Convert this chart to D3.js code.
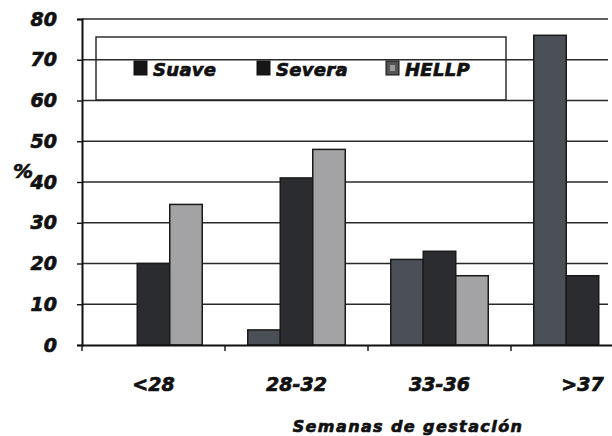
<!DOCTYPE html>
<html>
<head>
<meta charset="utf-8">
<script src="https://cdn.jsdelivr.net/npm/d3@7"></script>
<style>
  html, body { margin: 0; padding: 0; background: #fff; }
  svg { display: block; }
  text { font-family: "DejaVu Sans", Verdana, sans-serif; font-weight: bold; font-style: italic; fill: #111; stroke: #111; stroke-width: 0.7px; }
</style>
</head>
<body>
<svg id="chart" width="612" height="436"></svg>
<script>
// Gestational age groups and percentage per preeclampsia type
const categories = ["<28", "28-32", "33-36", ">37"];
const seriesNames = ["Suave", "Severa", "HELLP"];
const suave  = [0, 3.7, 21, 76];
const severa = [20, 41, 23, 17];
const hellp  = [34.5, 48, 17, 0];
const yTicks = [0, 10, 20, 30, 40, 50, 60, 70, 80];
const seriesColors = ["#4b4f56", "#2b2c30", "#a3a3a5"];

const values = [suave, severa, hellp];
const rows = categories.map((c, i) => ({
  cat: c,
  vals: seriesNames.map((s, j) => ({ series: s, value: values[j][i], idx: j }))
}));

const svg = d3.select("#chart");
const plotLeft = 82, plotRight = 654, plotTop = 19, plotBottom = 345;

const x0 = d3.scaleBand().domain(categories).range([plotLeft, plotRight]).paddingInner(0).paddingOuter(0);
const x1 = d3.scaleBand().domain(seriesNames).range([0, x0.bandwidth()]).paddingInner(0).paddingOuter(0.7);
const y = d3.scaleLinear().domain([0, 80]).range([plotBottom, plotTop]);

const boldText = sel => sel
  .attr("font-family", "DejaVu Sans, sans-serif")
  .attr("font-weight", "bold").attr("font-style", "italic")
  .attr("fill", "#111").attr("stroke", "#111").attr("stroke-width", 0.7);

// horizontal gridlines
svg.append("g")
  .selectAll("line")
  .data(yTicks.filter(t => t > 0))
  .join("line")
  .attr("x1", plotLeft).attr("x2", 608)
  .attr("y1", d => y(d)).attr("y2", d => y(d))
  .attr("stroke", "#2a2a2a").attr("stroke-width", 1.4);

// legend frame (no fill, gridlines pass behind the text)
const lg = svg.append("g");
lg.append("rect")
  .attr("x", 96).attr("y", 37).attr("width", 410).attr("height", 63)
  .attr("fill", "none").attr("stroke", "#222").attr("stroke-width", 1.4);
const legendX = [134, 257, 386];
seriesNames.forEach((s, i) => {
  lg.append("rect")
    .attr("x", legendX[i]).attr("y", 61).attr("width", 13).attr("height", 14)
    .attr("fill", i === 2 ? "#555" : "#161616").attr("stroke", "#111");
  if (i === 2) {
    lg.append("rect")
      .attr("x", legendX[i] + 4).attr("y", 65).attr("width", 5).attr("height", 6)
      .attr("fill", "#9a9a9a");
  }
  lg.append("text")
    .attr("x", legendX[i] + 19).attr("y", 76)
    .attr("font-size", 18).attr("letter-spacing", "0.3")
    .call(boldText)
    .text(s);
});

// bars
svg.append("g")
  .selectAll("g")
  .data(rows)
  .join("g")
  .attr("transform", d => `translate(${x0(d.cat)},0)`)
  .selectAll("rect")
  .data(d => d.vals)
  .join("rect")
  .attr("x", d => x1(d.series))
  .attr("y", d => y(d.value))
  .attr("width", x1.bandwidth())
  .attr("height", d => plotBottom - y(d.value))
  .attr("fill", d => seriesColors[d.idx])
  .attr("stroke", "#1a1a1a")
  .attr("stroke-width", d => d.value > 0 ? 1.5 : 0);

// y axis
const yAxis = svg.append("g")
  .attr("transform", `translate(${plotLeft},0)`)
  .call(d3.axisLeft(y).tickValues(yTicks).tickSize(5).tickPadding(20));
yAxis.select(".domain").attr("stroke", "#111").attr("stroke-width", 2);
yAxis.selectAll(".tick line").attr("stroke", "#111").attr("stroke-width", 1.4);
yAxis.selectAll(".tick text").attr("font-size", 19).call(boldText);

// x axis
const xAxis = svg.append("g")
  .attr("transform", `translate(0,${plotBottom})`)
  .call(d3.axisBottom(x0).tickSize(0).tickPadding(33));
xAxis.select(".domain").attr("stroke", "#111").attr("stroke-width", 2);
xAxis.selectAll(".tick text").attr("font-size", 19).call(boldText);
// boundary ticks between categories
svg.append("g")
  .selectAll("line")
  .data(categories)
  .join("line")
  .attr("x1", d => x0(d)).attr("x2", d => x0(d))
  .attr("y1", plotBottom).attr("y2", plotBottom + 6)
  .attr("stroke", "#111").attr("stroke-width", 1.4);

// axis titles
svg.append("text")
  .attr("x", 13).attr("y", 178)
  .attr("font-size", 20)
  .call(boldText)
  .text("%");
svg.append("text")
  .attr("x", 408).attr("y", 432)
  .attr("text-anchor", "middle")
  .attr("font-size", 16).attr("letter-spacing", "1.4")
  .call(boldText)
  .text("Semanas de gestación");
</script>
</body>
</html>
